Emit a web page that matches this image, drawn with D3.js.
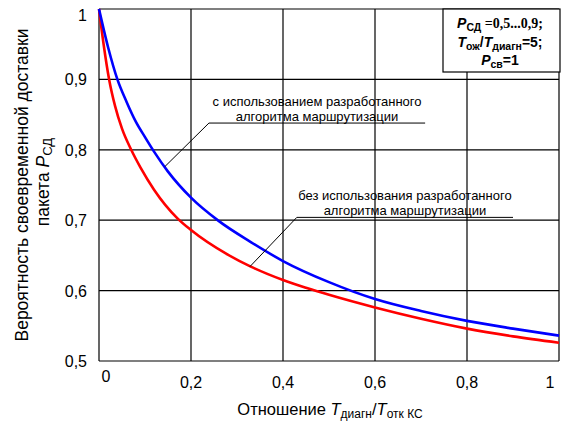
<!doctype html>
<html>
<head>
<meta charset="utf-8">
<title>Вероятность своевременной доставки</title>
<script src="https://d3js.org/d3.v7.min.js"></script>
<style>
body { margin: 0; background: #fff; }
text { font-family: "Liberation Sans", Arial, sans-serif; fill: #000; }
</style>
</head>
<body>
<script>
// ticks
var xTicks = [0, 0.2, 0.4, 0.6, 0.8, 1];
var xTickLabels = ["0", "0,2", "0,4", "0,6", "0,8", "1"];
var yTicks = [0.5, 0.6, 0.7, 0.8, 0.9, 1];
var yTickLabels = ["0,5", "0,6", "0,7", "0,8", "0,9", "1"];

// с использованием разработанного алгоритма (синяя)
var blueX = [0, 0.02, 0.04, 0.06, 0.08, 0.1, 0.12, 0.15, 0.2, 0.26, 0.33, 0.4, 0.5, 0.6, 0.7, 0.8, 0.9, 1];
var blueY = [1, 0.945, 0.9, 0.868, 0.84, 0.818, 0.797, 0.769, 0.732, 0.699, 0.669, 0.642, 0.612, 0.588, 0.571, 0.557, 0.546, 0.536];

// без использования (красная)
var redX = [0, 0.01, 0.022, 0.035, 0.05, 0.07, 0.09, 0.12, 0.17, 0.2, 0.28, 0.33, 0.4, 0.45, 0.5, 0.6, 0.7, 0.8, 0.9, 1];
var redY = [1, 0.95, 0.9, 0.862, 0.83, 0.8, 0.775, 0.743, 0.703, 0.686, 0.651, 0.634, 0.615, 0.604, 0.594, 0.576, 0.56, 0.546, 0.535, 0.526];

var width = 562, height = 423;

var svg = d3.select("body").append("svg")
    .attr("width", width)
    .attr("height", height);

var x = d3.scaleLinear().domain([0, 1]).range([99, 559]);
var y = d3.scaleLinear().domain([0.5, 1]).range([361, 9]);

// grid
svg.selectAll(".vgrid").data(xTicks).enter().append("line")
    .attr("x1", function(d){ return x(d); })
    .attr("x2", function(d){ return x(d); })
    .attr("y1", y(1)).attr("y2", y(0.5))
    .attr("stroke", "#000").attr("stroke-width", 1.2);
svg.selectAll(".hgrid").data(yTicks).enter().append("line")
    .attr("x1", x(0)).attr("x2", x(1))
    .attr("y1", function(d){ return y(d); })
    .attr("y2", function(d){ return y(d); })
    .attr("stroke", "#000").attr("stroke-width", 1.2);

// tick labels
svg.selectAll(".xl").data(xTicks).enter().append("text")
    .attr("x", function(d, i){ return x(d) + (i == 0 ? 7 : (i == xTicks.length - 1 ? -9 : 0)); })
    .attr("y", function(d, i){ return i == 0 ? 382 : 388; })
    .attr("text-anchor", "middle")
    .style("font-size", "16px")
    .text(function(d, i){ return xTickLabels[i]; });

svg.selectAll(".yl").data(yTicks).enter().append("text")
    .attr("x", 87)
    .attr("y", function(d){ return y(d) + (d == 1 ? 12 : 6); })
    .attr("text-anchor", "end")
    .style("font-size", "16px")
    .text(function(d, i){ return yTickLabels[i]; });

// curves
var line = d3.line()
    .x(function(d){ return x(d[0]); })
    .y(function(d){ return y(d[1]); })
    .curve(d3.curveMonotoneX);

svg.append("path")
    .datum(redX.map(function(v, i){ return [v, redY[i]]; }))
    .attr("d", line)
    .attr("fill", "none").attr("stroke", "#ff0000").attr("stroke-width", 2.6);
svg.append("path")
    .datum(blueX.map(function(v, i){ return [v, blueY[i]]; }))
    .attr("d", line)
    .attr("fill", "none").attr("stroke", "#0000ff").attr("stroke-width", 2.6);

// annotations
function note(lines, pt, x0, x1, yv){
  var g = svg.append("g");
  g.append("line")
    .attr("x1", x(pt[0])).attr("y1", y(pt[1]))
    .attr("x2", x(x0)).attr("y2", y(yv))
    .attr("stroke", "#000").attr("stroke-width", 1);
  g.append("line")
    .attr("x1", x(x0)).attr("x2", x(x1))
    .attr("y1", y(yv)).attr("y2", y(yv))
    .attr("stroke", "#000").attr("stroke-width", 1);
  var cx = (x(x0) + x(x1)) / 2;
  g.append("text").attr("x", cx).attr("y", y(yv) - 17)
    .attr("text-anchor", "middle").style("font-size", "13px").text(lines[0]);
  g.append("text").attr("x", cx).attr("y", y(yv) - 2.5)
    .attr("text-anchor", "middle").style("font-size", "13px").text(lines[1]);
}
note(["с использованием разработанного", "алгоритма маршрутизации"], [0.143, 0.776], 0.239, 0.709, 0.838);
note(["без использования разработанного", "алгоритма маршрутизации"], [0.328, 0.634], 0.43, 0.9, 0.704);

// text with sub parts
function rich(t, parts){
  parts.forEach(function(p){
    var s = t.append("tspan").text(p.t);
    if (p.i) s.style("font-style", "italic");
    if (p.f) s.style("font-family", p.f);
    if (p.sub) s.style("font-size", p.sub + "px").attr("dy", 3);
    else if (p.up) s.attr("dy", -3);
  });
  return t;
}

// x title
rich(svg.append("text").attr("x", 330).attr("y", 415)
    .attr("text-anchor", "middle").style("font-size", "16.5px"),
  [{t: "Отношение "}, {t: "T", i: 1}, {t: "диагн", sub: 12}, {t: "/", up: 1},
   {t: "T", i: 1}, {t: "отк КС", sub: 12}]);

// y title
svg.append("text")
    .attr("transform", "translate(28,185) rotate(-90)")
    .attr("text-anchor", "middle").style("font-size", "17.5px")
    .text("Вероятность своевременной доставки");
rich(svg.append("text")
    .attr("transform", "translate(49,182) rotate(-90)")
    .attr("text-anchor", "middle").style("font-size", "17.5px"),
  [{t: "пакета "}, {t: "P", i: 1}, {t: "СД", sub: 13}]);

// legend box
svg.append("rect")
    .attr("x", 443).attr("y", y(1)).attr("width", 117).attr("height", 63)
    .attr("fill", "#fff").attr("stroke", "#000").attr("stroke-width", 1.2);
var lg = svg.append("g").style("font-weight", "bold").style("font-size", "14px");
rich(lg.append("text").attr("x", 500).attr("y", 28).attr("text-anchor", "middle"),
  [{t: "P", i: 1}, {t: "СД", sub: 10.5}, {t: " =0,5...0,9;", up: 1, f: "'Liberation Serif', 'Times New Roman', serif"}]);
rich(lg.append("text").attr("x", 500).attr("y", 47).attr("text-anchor", "middle"),
  [{t: "T", i: 1}, {t: "ож", sub: 10.5}, {t: "/", up: 1}, {t: "T", i: 1}, {t: "диагн", sub: 10.5}, {t: "=5;", up: 1}]);
rich(lg.append("text").attr("x", 500).attr("y", 65).attr("text-anchor", "middle"),
  [{t: "P", i: 1}, {t: "св", sub: 10.5}, {t: "=1", up: 1}]);
</script>
</body>
</html>
